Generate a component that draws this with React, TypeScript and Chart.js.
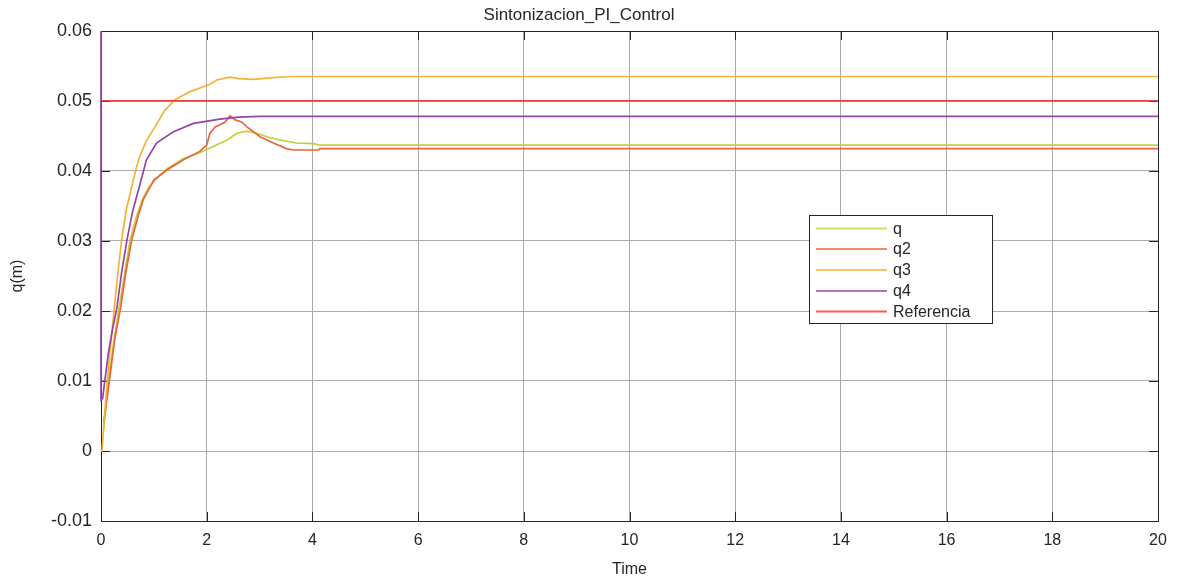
import React, { useEffect, useRef } from "react";
import { Chart, registerables } from "chart.js";

Chart.register(...registerables);

const chartTitle = "Sintonizacion_PI_Control";
const xAxisTitle = "Time";
const yAxisTitle = "q(m)";
const xTicks = [0, 2, 4, 6, 8, 10, 12, 14, 16, 18, 20];
const yTicks = [-0.01, 0, 0.01, 0.02, 0.03, 0.04, 0.05, 0.06];

const seriesNames = ["q", "q2", "q3", "q4", "Referencia"];
const seriesColors = ["#C5CF3A", "#E8673A", "#F4B236", "#9444AA", "#FF2020"];

const qTime = [0.05, 0.14, 0.25, 0.34, 0.45, 0.55, 0.67, 0.78, 0.9, 1.02, 1.24, 1.56, 1.87, 2.12, 2.38, 2.57, 2.76, 2.95, 3.14, 3.39, 3.7, 4.01, 4.14, 20];
const qValues = [0.003, 0.0101, 0.016, 0.0204, 0.0255, 0.0301, 0.0335, 0.0359, 0.0376, 0.0387, 0.0403, 0.0418, 0.0426, 0.0435, 0.0444, 0.0454, 0.0457, 0.0454, 0.0449, 0.0444, 0.044, 0.0439, 0.0437, 0.0437];

const q2Time = [0.05, 0.16, 0.26, 0.37, 0.47, 0.58, 0.7, 0.8, 0.92, 1.0, 1.24, 1.56, 1.87, 2.0, 2.06, 2.16, 2.25, 2.35, 2.44, 2.54, 2.66, 2.76, 3.01, 3.26, 3.51, 3.64, 4.12, 4.14, 20];
const q2Values = [0.004, 0.0101, 0.016, 0.0204, 0.0255, 0.0301, 0.0335, 0.0359, 0.0376, 0.0387, 0.0401, 0.0416, 0.0428, 0.0437, 0.0454, 0.0463, 0.0466, 0.047, 0.0479, 0.0473, 0.047, 0.0463, 0.0449, 0.044, 0.0432, 0.043, 0.043, 0.0432, 0.0432];

const q3Time = [0, 0.02, 0.06, 0.12, 0.18, 0.23, 0.25, 0.32, 0.39, 0.48, 0.61, 0.71, 0.85, 1.02, 1.21, 1.4, 1.68, 2.06, 2.19, 2.44, 2.6, 2.88, 3.2, 3.58, 20];
const q3Values = [0, 0, 0.0044, 0.0101, 0.015, 0.0187, 0.0204, 0.0255, 0.0301, 0.0345, 0.0387, 0.0416, 0.0442, 0.0463, 0.0487, 0.0502, 0.0513, 0.0524, 0.053, 0.0534, 0.0532, 0.0531, 0.0533, 0.0535, 0.0535];

const q4Time = [0, 0, 0.03, 0.08, 0.14, 0.22, 0.3, 0.39, 0.49, 0.6, 0.72, 0.86, 1.05, 1.37, 1.75, 2.25, 2.6, 3.0, 20];
const q4Values = [0.06, 0.0073, 0.0075, 0.0105, 0.014, 0.0175, 0.0204, 0.0255, 0.0301, 0.0343, 0.0376, 0.0416, 0.044, 0.0456, 0.0468, 0.0474, 0.0477, 0.0478, 0.0478];

const refTime = [0, 20];
const refValues = [0.05, 0.05];

const allTimes = [qTime, q2Time, q3Time, q4Time, refTime];
const allValues = [qValues, q2Values, q3Values, q4Values, refValues];

const FONT = "'Liberation Sans', Arial, Helvetica, sans-serif";
const TEXT = "#262626";
const GRID = "#acacac";

const boxPlugin = {
  id: "matlabBox",
  beforeDatasetsDraw(chart: any) {
    const { ctx, chartArea: a, scales } = chart;
    ctx.save();
    ctx.strokeStyle = TEXT;
    ctx.lineWidth = 1;
    ctx.strokeRect(Math.round(a.left) + 0.5, Math.round(a.top) + 0.5, Math.round(a.right - a.left), Math.round(a.bottom - a.top));
    ctx.beginPath();
    const tl = 9;
    xTicks.forEach((v) => {
      const x = Math.round(scales.x.getPixelForValue(v)) + 0.5;
      ctx.moveTo(x, a.bottom);
      ctx.lineTo(x, a.bottom - tl);
      ctx.moveTo(x, a.top);
      ctx.lineTo(x, a.top + tl);
    });
    yTicks.forEach((v) => {
      const y = Math.round(scales.y.getPixelForValue(v)) + 0.5;
      ctx.moveTo(a.left, y);
      ctx.lineTo(a.left + tl, y);
      ctx.moveTo(a.right, y);
      ctx.lineTo(a.right - tl, y);
    });
    ctx.stroke();
    ctx.restore();
  },
};

const legendPlugin = {
  id: "matlabLegend",
  afterDatasetsDraw(chart: any) {
    const { ctx } = chart;
    const x0 = 809.5, y0 = 215.5, w = 183, h = 108;
    ctx.save();
    ctx.fillStyle = "#ffffff";
    ctx.fillRect(x0, y0, w, h);
    ctx.strokeStyle = TEXT;
    ctx.lineWidth = 1;
    ctx.strokeRect(x0, y0, w, h);
    ctx.font = `16px ${FONT}`;
    ctx.textBaseline = "middle";
    ctx.textAlign = "left";
    const rows = [228.5, 249, 270, 291, 311.5];
    seriesNames.forEach((name, i) => {
      const y = rows[i];
      ctx.strokeStyle = seriesColors[i];
      ctx.globalAlpha = 0.75;
      ctx.lineWidth = 2;
      ctx.beginPath();
      ctx.moveTo(816, y);
      ctx.lineTo(887, y);
      ctx.stroke();
      ctx.globalAlpha = 1;
      ctx.fillStyle = TEXT;
      ctx.fillText(name, 893, y + 1);
    });
    ctx.restore();
  },
};

export default function App() {
  const ref = useRef<HTMLCanvasElement | null>(null);
  useEffect(() => {
    if (!ref.current) return;
    const datasets = seriesNames.map((name, i) => ({
      label: name,
      data: allTimes[i].map((t, k) => ({ x: t, y: allValues[i][k] })),
      borderColor: seriesColors[i],
      backgroundColor: seriesColors[i],
      borderWidth: 1.7,
      pointRadius: 0,
      tension: 0,
      fill: false,
      clip: false as any,
      order: 5 - i,
    }));
    const chart = new Chart(ref.current, {
      type: "line",
      data: { datasets },
      plugins: [boxPlugin, legendPlugin],
      options: {
        animation: false,
        responsive: false,
        devicePixelRatio: 1,
        layout: { padding: { left: 0, right: 22, top: 0, bottom: 0 } },
        plugins: {
          legend: { display: false },
          tooltip: { enabled: false },
          title: {
            display: true,
            text: chartTitle,
            color: TEXT,
            font: { family: FONT, size: 17, weight: "normal" as any, lineHeight: 1.2 },
            padding: { top: 5, bottom: 5.6 },
          },
        },
        scales: {
          x: {
            type: "linear",
            min: 0,
            max: 20,
            afterBuildTicks: (s: any) => {
              s.ticks = xTicks.map((v) => ({ value: v }));
            },
            afterFit: (s: any) => {
              s.height = 61;
            },
            grid: { color: GRID, lineWidth: 1, drawTicks: false },
            border: { display: false },
            ticks: {
              color: TEXT,
              font: { family: FONT, size: 16 },
              padding: 10,
              maxRotation: 0,
              callback: (v: any) => String(v),
            },
            title: {
              display: true,
              text: xAxisTitle,
              color: TEXT,
              font: { family: FONT, size: 16 },
              padding: { top: 2, bottom: 3 },
            },
          },
          y: {
            type: "linear",
            min: -0.01,
            max: 0.06,
            afterBuildTicks: (s: any) => {
              s.ticks = yTicks.map((v) => ({ value: v }));
            },
            afterFit: (s: any) => {
              s.width = 101;
            },
            grid: { color: GRID, lineWidth: 1, drawTicks: false },
            border: { display: false },
            ticks: {
              color: TEXT,
              font: { family: FONT, size: 18 },
              padding: 9,
              callback: (v: any) => String(Number(Number(v).toFixed(2))),
            },
            title: {
              display: true,
              text: yAxisTitle,
              color: TEXT,
              font: { family: FONT, size: 16 },
              padding: { top: 8, bottom: 4 },
            },
          },
        },
      },
    });
    return () => chart.destroy();
  }, []);
  return (
    <div style={{ position: "absolute", left: 0, top: 0, width: 1180, height: 582, background: "#fff" }}>
      <canvas ref={ref} width={1180} height={582} style={{ display: "block", width: 1180, height: 582 }} />
    </div>
  );
}
